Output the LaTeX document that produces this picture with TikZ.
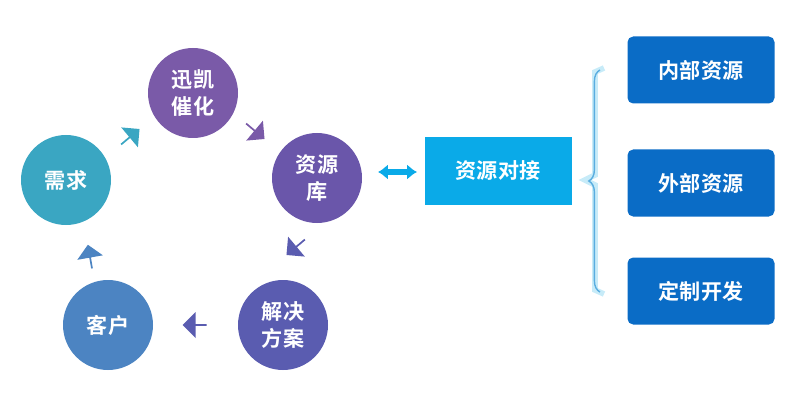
\documentclass[tikz,border=0pt]{standalone}
\usepackage{fontspec}
\newfontfamily\cjk{Noto Sans CJK SC Bold}
\usetikzlibrary{shapes.arrows,decorations.pathreplacing,arrows.meta}
\definecolor{cTeal}{HTML}{3AA6C2}
\definecolor{cPurpleA}{HTML}{7A5AA8}
\definecolor{cPurpleB}{HTML}{6A56AA}
\definecolor{cIndigo}{HTML}{5A5CB0}
\definecolor{cBlue}{HTML}{4C84C2}
\definecolor{cCyan}{HTML}{0AAAE8}
\definecolor{cDeep}{HTML}{0A6CC6}
\definecolor{cGlow}{HTML}{8FD8F2}
\newcommand\unitpx{*0.025cm}
\tikzset{
  stage/.style={circle,fill=#1,minimum size=90\unitpx,text=white,font=\cjk\fontsize{15}{19}\selectfont,align=center},
  hop/.style={single arrow,fill=#1,minimum height=24\unitpx,minimum width=26\unitpx,single arrow head extend=4\unitpx,inner sep=0pt},
  resbox/.style={rounded corners=4pt,fill=cDeep,minimum width=147\unitpx,minimum height=67\unitpx,text=white,font=\cjk\fontsize{15}{19}\selectfont}
}
\begin{document}
\begin{tikzpicture}[x=0.025cm,y=-0.025cm]
  \useasboundingbox (0,0) rectangle (800,400);
  \node[stage=cTeal] (need) at (66,180) {需求};
  \node[stage=cPurpleA] (cat) at (193,93) {迅凯\\催化};
  \node[stage=cPurpleB] (lib) at (317,178) {资源\\库};
  \node[stage=cIndigo] (sol) at (283,325) {解决\\方案};
  \node[stage=cBlue] (cust) at (108,325) {客户};
  \node[hop=cTeal,rotate=40] (h1) at (130,137) {};
  \node[hop=cPurpleA,rotate=-40] (h2) at (255,131) {};
  \node[hop=cIndigo,rotate=-140] (h3) at (296,247) {};
  \node[hop=cIndigo,rotate=180] (h4) at (195,325) {};
  \node[hop=cBlue,rotate=100] (h5) at (90,257) {};
  \node[fill=cCyan,minimum width=147\unitpx,minimum height=68\unitpx,text=white,
        font=\cjk\fontsize{15}{19}\selectfont] (dock) at (498,171) {资源对接};
  \coordinate (d1) at (378,172);
  \coordinate (d2) at (417,172);
  \draw[cCyan,line width=4pt,{Latex[length=7pt,width=11pt]}-{Latex[length=7pt,width=11pt]}] (d1) -- (d2);
  \node[resbox] (inner) at (701,70) {内部资源};
  \node[resbox] (outer) at (701,183) {外部资源};
  \node[resbox] (custom) at (701,291) {定制开发};
  \draw[cGlow,line width=4pt,opacity=0.5] (604,68) -- (595,72) -- (595,175) -- (585,180) -- (595,185) -- (595,290) -- (604,294);
  \draw[decorate,decoration={brace,amplitude=8pt},cGlow!60!cDeep,line width=1pt]
    (600,292) -- (600,70);
\end{tikzpicture}
\end{document}
